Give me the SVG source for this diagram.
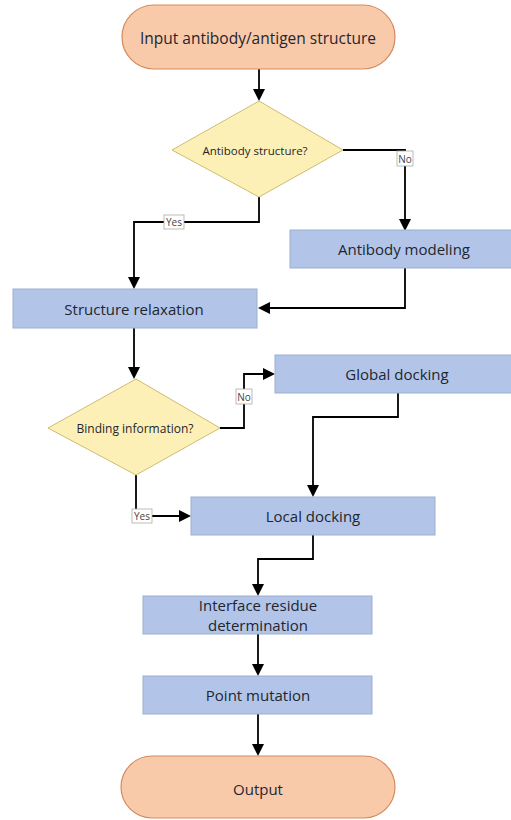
<svg xmlns="http://www.w3.org/2000/svg" width="511" height="820" viewBox="0 0 511 820">
<defs>
<style>
.term{fill:#F8CAAA;stroke:#D58A5C;stroke-width:1.2}
.box{fill:#B2C5E8;stroke:#9DAFCF;stroke-width:1}
.dia{fill:#FCF0B6;stroke:#CDBD72;stroke-width:1}
.t{font-family:"Open Sans","Liberation Sans",sans-serif;fill:#1E2630;text-anchor:middle;dominant-baseline:central}
.big{font-size:15px}
.sm{font-size:12px}
.lbl{fill:#fff;stroke:#AAAAAA;stroke-width:0.8}
.lt{font-family:"Open Sans","Liberation Sans",sans-serif;font-size:10px;fill:#444;text-anchor:middle;dominant-baseline:central}
.c{fill:none;stroke:#000;stroke-width:1.8}
.ah{fill:#000}
</style>
</defs>
<rect width="511" height="820" fill="#fff"/>
<g id="connectors">
<path class="c" d="M259,69 V91"/>
<path class="ah" d="M253,89 L265,89 L259,101 z"/>
<path class="c" d="M343,150 H405 V221"/>
<path class="ah" d="M399,219 L411,219 L405,231 z"/>
<path class="c" d="M259,197 V222 H134 V279"/>
<path class="ah" d="M128,277 L140,277 L134,289 z"/>
<path class="c" d="M405,268 V308 H268"/>
<path class="ah" d="M270,302 L270,314 L258,308 z"/>
<path class="c" d="M134,328 V369"/>
<path class="ah" d="M128,367 L140,367 L134,379 z"/>
<path class="c" d="M220,428 H244 V374 H265"/>
<path class="ah" d="M263,368 L263,380 L275,374 z"/>
<path class="c" d="M398,393 V417 H313 V487"/>
<path class="ah" d="M307,485 L319,485 L313,497 z"/>
<path class="c" d="M136,475 V516 H181"/>
<path class="ah" d="M179,510 L179,522 L191,516 z"/>
<path class="c" d="M313,535 V559 H258 V586"/>
<path class="ah" d="M252,584 L264,584 L258,596 z"/>
<path class="c" d="M258,634 V666"/>
<path class="ah" d="M252,664 L264,664 L258,676 z"/>
<path class="c" d="M258,714 V746"/>
<path class="ah" d="M252,744 L264,744 L258,756 z"/>
<rect class="lbl" x="164" y="215" width="20" height="14"/>
<text class="lt" x="174" y="222">Yes</text>
<rect class="lbl" x="397" y="151" width="16" height="15"/>
<text class="lt" x="405" y="158.5">No</text>
<rect class="lbl" x="236" y="389" width="16" height="15"/>
<text class="lt" x="244" y="396.5">No</text>
<rect class="lbl" x="132" y="509" width="20" height="14"/>
<text class="lt" x="142" y="516">Yes</text>
</g>
<g id="n-input">
<rect class="term" x="122" y="5" width="273" height="64" rx="32"/>
<text class="t" x="258" y="38" style="font-size:15.5px">Input antibody/antigen structure</text>
</g>
<g id="n-antibody-q">
<polygon class="dia" points="259,101 343,150 259,197 172,150"/>
<text class="t" x="255" y="150" style="font-size:11.5px">Antibody structure?</text>
</g>
<g id="n-modeling">
<rect class="box" x="290" y="230" width="232" height="38"/>
<text class="t big" x="404" y="249">Antibody modeling</text>
</g>
<g id="n-relax">
<rect class="box" x="13" y="289" width="244" height="39"/>
<text class="t big" x="134" y="309">Structure relaxation</text>
</g>
<g id="n-binding-q">
<polygon class="dia" points="136,379 220,428 136,475 48,428"/>
<text class="t sm" x="135" y="428">Binding information?</text>
</g>
<g id="n-global">
<rect class="box" x="275" y="355" width="246" height="38"/>
<text class="t big" x="397" y="374">Global docking</text>
</g>
<g id="n-local">
<rect class="box" x="191" y="497" width="244" height="38"/>
<text class="t big" x="313" y="516">Local docking</text>
</g>
<g id="n-interface">
<rect class="box" x="143" y="596" width="229" height="38"/>
<text class="t big" x="258" y="605">Interface residue</text>
<text class="t big" x="258" y="625">determination</text>
</g>
<g id="n-point">
<rect class="box" x="143" y="676" width="229" height="38"/>
<text class="t big" x="258" y="695">Point mutation</text>
</g>
<g id="n-output">
<rect class="term" x="121" y="756" width="274" height="62" rx="31"/>
<text class="t big" x="258" y="789">Output</text>
</g>
</svg>
